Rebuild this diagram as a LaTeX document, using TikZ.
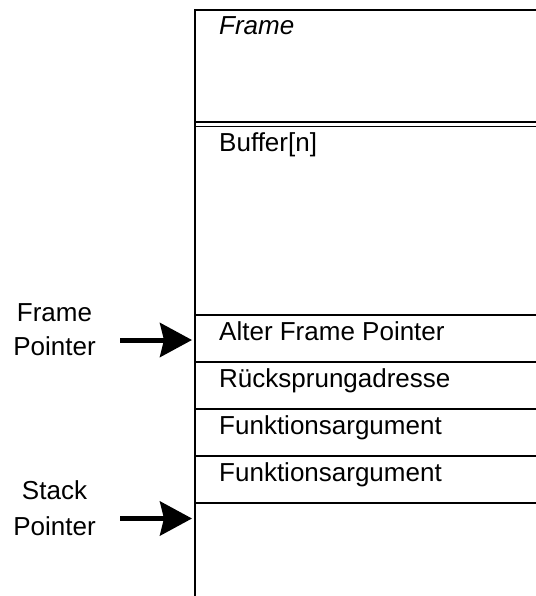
\documentclass[tikz,border=0pt]{standalone}
\usepackage{fontspec}
\setmainfont{Liberation Sans}
\usetikzlibrary{arrows.meta}
\tikzset{
  txt/.style={font=\fontsize{26bp}{33bp}\selectfont, inner sep=0pt},
  cell/.style={txt, anchor=base west},
  lbl/.style={txt, anchor=base},
  rule/.style={line width=2bp},
  thinrule/.style={line width=1.5bp},
  ptr/.style={line width=5bp, -{Stealth[length=32bp,width=34bp,inset=4bp]}}
}
\begin{document}
\begin{tikzpicture}[x=1bp,y=-1bp]
\useasboundingbox (0,0) rectangle (536,596);
% frame outline
\coordinate (tr) at (536,10);
\coordinate (tl) at (195,10);
\coordinate (bl) at (195,596);
\draw[rule] (tr) -- (tl) -- (bl);
% double separator
\draw[thinrule] (195,122) -- (536,122);
\draw[thinrule] (195,126.5) -- (536,126.5);
% row separators
\foreach \y in {315,362,409,456,503} \draw[rule] (195,\y) -- (536,\y);
% cell texts
\node[cell] (frame) at (219,35) {\itshape Frame};
\node[cell] (buf) at (219,151.5) {Buffer[n]};
\node[cell] (afp) at (219,340) {Alter Frame Pointer};
\node[cell] (rsa) at (219,387) {Rücksprungadresse};
\node[cell] (fa1) at (219,434) {Funktionsargument};
\node[cell] (fa2) at (219,481) {Funktionsargument};
% pointer labels
\node[lbl] (fpl1) at (54.5,321.5) {Frame};
\node[lbl] (fpl2) at (54.5,355.5) {Pointer};
\node[lbl] (spl1) at (54.5,499.5) {Stack};
\node[lbl] (spl2) at (54.5,535.5) {Pointer};
% arrows
\coordinate (fpa) at (120,340);
\coordinate (fpb) at (192,340);
\coordinate (spa) at (120,518.5);
\coordinate (spb) at (192,518.5);
\draw[ptr] (fpa) -- (fpb);
\draw[ptr] (spa) -- (spb);
\end{tikzpicture}
\end{document}
